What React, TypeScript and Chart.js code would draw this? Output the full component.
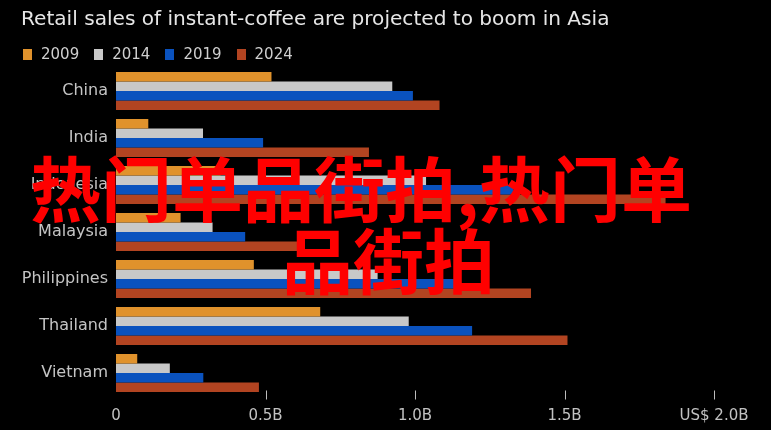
import React, { useEffect, useRef } from "react";
import { Chart, registerables } from "chart.js";

Chart.register(...registerables);

const titleText = "Retail sales of instant-coffee are projected to boom in Asia";
const categories = ["China", "India", "Indonesia", "Malaysia", "Philippines", "Thailand", "Vietnam"];
const years = ["2009", "2014", "2019", "2024"];
const sales2009 = [0.52, 0.108, 0.35, 0.216, 0.461, 0.683, 0.071];
const sales2014 = [0.924, 0.291, 1.037, 0.323, 0.875, 0.979, 0.18];
const sales2019 = [0.993, 0.492, 1.33, 0.432, 1.154, 1.191, 0.292];
const sales2024 = [1.082, 0.846, 1.838, 0.62, 1.388, 1.51, 0.478];
const seriesColors = ["#E0922C", "#C8C8C8", "#0A52BE", "#B24421"];
const xTickValues = [0, 0.5, 1, 1.5, 2];
const xTickLabels = ["0", "0.5B", "1.0B", "1.5B", "US$ 2.0B"];
const overlayLine1 = "热门单品街拍,热门单";
const overlayLine2 = "品街拍";

const FONT = "'DejaVu Sans', sans-serif";

const tickMarks = {
  id: "tickMarks",
  afterDatasetsDraw(chart: any) {
    const s = chart.scales.x;
    const ctx = chart.ctx;
    const b = chart.chartArea.bottom;
    ctx.save();
    ctx.strokeStyle = "#bdbdbd";
    ctx.lineWidth = 1;
    s.ticks.forEach((t: any) => {
      if (t.value === 0) return;
      const x = Math.round(s.getPixelForValue(t.value)) + 0.5;
      ctx.beginPath();
      ctx.moveTo(x, b - 6);
      ctx.lineTo(x, b + 3);
      ctx.stroke();
    });
    ctx.restore();
  },
};

export default function App() {
  const canvasRef = useRef<HTMLCanvasElement | null>(null);

  useEffect(() => {
    if (!canvasRef.current) return;
    Chart.defaults.font.family = FONT;
    const seriesValues = [sales2009, sales2014, sales2019, sales2024];
    const chart = new Chart(canvasRef.current, {
      type: "bar",
      data: {
        labels: categories,
        datasets: years.map((y, i) => ({
          label: y,
          data: seriesValues[i],
          backgroundColor: seriesColors[i],
          borderWidth: 0,
          categoryPercentage: 0.81,
          barPercentage: 0.98,
        })),
      },
      options: {
        indexAxis: "y",
        animation: false,
        responsive: true,
        maintainAspectRatio: false,
        layout: { padding: { top: 67.5, right: 57, bottom: 0, left: 0 } },
        plugins: {
          legend: { display: false },
          title: { display: false },
          tooltip: { enabled: false },
        },
        scales: {
          x: {
            type: "linear",
            min: 0,
            max: 2,
            grid: { display: false, drawTicks: false },
            border: { display: false },
            afterBuildTicks: (scale: any) => {
              scale.ticks = xTickValues.map((v) => ({ value: v }));
            },
            afterFit: (scale: any) => {
              scale.height = 33.5;
            },
            ticks: {
              autoSkip: false,
              maxRotation: 0,
              padding: 10.5,
              color: "#c2c2c2",
              font: { size: 15, family: FONT },
              callback: (v: any) => {
                const i = xTickValues.indexOf(Number(v));
                return i >= 0 ? xTickLabels[i] : "";
              },
            },
          },
          y: {
            type: "category",
            grid: { display: false, drawTicks: false },
            border: { display: false },
            afterFit: (scale: any) => {
              scale.width = 116;
            },
            ticks: {
              padding: 8,
              color: "#c4c4c4",
              font: { size: 16, family: FONT },
            },
          },
        },
      } as any,
      plugins: [tickMarks],
    });
    return () => chart.destroy();
  }, []);

  return (
    <div
      style={{
        position: "fixed",
        left: 0,
        top: 0,
        width: 771,
        height: 430,
        background: "#000",
        overflow: "hidden",
      }}
    >
      <canvas ref={canvasRef} style={{ position: "absolute", left: 0, top: 0 }} />
      <div
        style={{
          position: "absolute",
          left: 21,
          top: 7.9,
          fontFamily: FONT,
          fontSize: 20.1,
          lineHeight: "20.1px",
          color: "#e6e6e6",
          whiteSpace: "nowrap",
        }}
      >
        {titleText}
      </div>
      <div
        style={{
          position: "absolute",
          left: 23,
          top: 47.3,
          display: "flex",
          fontFamily: FONT,
          fontSize: 15,
          lineHeight: "15px",
          color: "#cfcfcf",
        }}
      >
        {years.map((y, i) => (
          <div key={y} style={{ display: "flex", alignItems: "flex-start", marginRight: 15 }}>
            <span
              style={{
                display: "inline-block",
                width: 9,
                height: 11,
                marginTop: 2,
                marginRight: 9,
                background: seriesColors[i],
              }}
            />
            <span>{y}</span>
          </div>
        ))}
      </div>
      <div
        style={{
          position: "absolute",
          left: 0,
          top: 148.5,
          width: 771,
          fontFamily: "'Noto Sans CJK SC', sans-serif",
          fontWeight: 700,
          fontSize: 71,
          lineHeight: "72px",
          color: "#ff0000",
          whiteSpace: "nowrap",
          pointerEvents: "none",
        }}
      >
        <div style={{ marginLeft: 30 }}>{overlayLine1}</div>
        <div style={{ marginLeft: 282 }}>{overlayLine2}</div>
      </div>
    </div>
  );
}
